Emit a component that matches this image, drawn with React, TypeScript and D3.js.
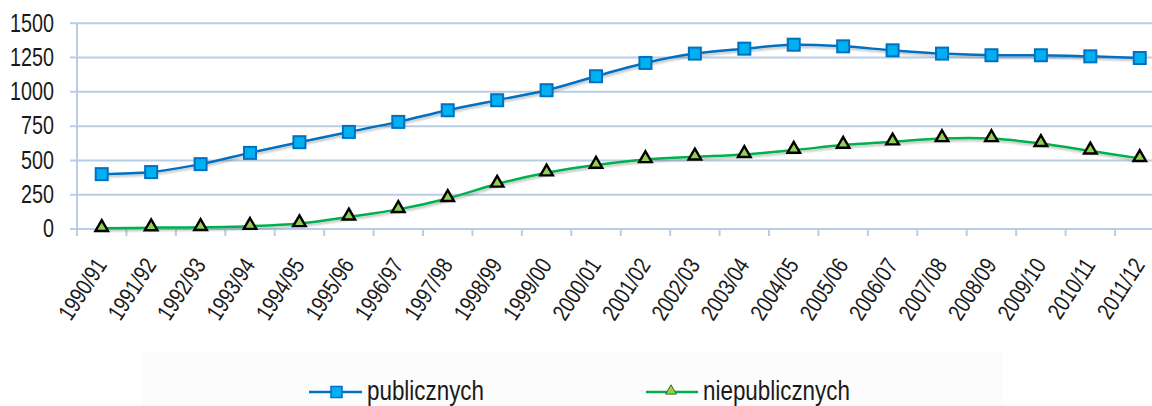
import React from "react";
import * as d3 from "d3";

const categories = [
  "1990/91", "1991/92", "1992/93", "1993/94", "1994/95", "1995/96", "1996/97", "1997/98",
  "1998/99", "1999/00", "2000/01", "2001/02", "2002/03", "2003/04", "2004/05", "2005/06",
  "2006/07", "2007/08", "2008/09", "2009/10", "2010/11", "2011/12",
];
const publiczne = [400, 415, 473, 555, 633, 708, 781, 866, 939, 1012, 1114, 1211, 1279, 1315, 1344, 1332, 1303, 1279, 1267, 1267, 1259, 1247];
const niepubliczne = [5, 10, 12, 20, 40, 88, 143, 223, 328, 410, 466, 507, 526, 544, 575, 612, 636, 660, 660, 624, 570, 515];
const yTicks = [0, 250, 500, 750, 1000, 1250, 1500];
const seriesNames = ["publicznych", "niepublicznych"];

const W = 1152;
const H = 406;
const FONT = "'Liberation Sans', Arial, sans-serif";
const GRID = "#B9CDE5";
const SX = 0.8;

export default function App() {
  const x = d3.scaleBand<string>().domain(categories).range([77, 77 + 22 * 49.43]).padding(0);
  const y = d3.scaleLinear().domain([0, 1500]).range([229, 23.3]);
  const cx = (c: string) => (x(c) as number) + x.bandwidth() / 2;

  const line = d3
    .line<number>()
    .x((_, i) => cx(categories[i]))
    .y((d) => y(d))
    .curve(d3.curveCatmullRom.alpha(0.5));

  const tri = d3.symbol().type(d3.symbolTriangle).size(68)();

  return (
    <svg width={W} height={H} style={{ position: "absolute", left: 0, top: 0, background: "#fff" }} fontFamily={FONT}>
      <defs>
        <filter id="sh" x="-5%" y="-20%" width="110%" height="140%">
          <feGaussianBlur in="SourceAlpha" stdDeviation="0.8" />
          <feOffset dx="1" dy="2" result="b" />
          <feComponentTransfer>
            <feFuncA type="linear" slope="0.25" />
          </feComponentTransfer>
          <feMerge>
            <feMergeNode />
            <feMergeNode in="SourceGraphic" />
          </feMerge>
        </filter>
      </defs>
      {yTicks.map((t) => (
        <line key={t} x1={70} x2={W} y1={y(t)} y2={y(t)} stroke={GRID} strokeWidth={2} />
      ))}
      <line x1={77} x2={77} y1={y(1500) - 1} y2={236} stroke={GRID} strokeWidth={2} />
      {categories.map((c, i) =>
        i === 0 ? null : (
          <line key={c} x1={x(c) as number} x2={x(c) as number} y1={229} y2={236} stroke={GRID} strokeWidth={2} />
        )
      )}
      {yTicks.map((t) => (
        <text
          key={t}
          transform={`translate(54,${y(t)}) scale(0.79,1)`}
          textAnchor="end"
          dominantBaseline="central"
          fontSize={25}
          fill="#1a1a1a"
        >
          {t}
        </text>
      ))}
      {categories.map((c) => (
        <text
          key={c}
          transform={`translate(${cx(c) + 6},${265}) rotate(-57) scale(${SX},1)`}
          textAnchor="end"
          fontSize={23.5}
          fill="#1a1a1a"
        >
          {c}
        </text>
      ))}
      <g filter="url(#sh)">
        <path d={line(publiczne) || ""} fill="none" stroke="#0070C0" strokeWidth={2.5} />
        <path d={line(niepubliczne) || ""} fill="none" stroke="#00B050" strokeWidth={2.5} />
      </g>
      {publiczne.map((v, i) => (
        <rect
          key={i}
          x={cx(categories[i]) - 6}
          y={y(v) - 6}
          width={12}
          height={12}
          fill="#00B0F0"
          stroke="#0070C0"
          strokeWidth={2}
        />
      ))}
      {niepubliczne.map((v, i) => (
        <path
          key={i}
          d={tri || ""}
          transform={`translate(${cx(categories[i])},${y(v) - 1})`}
          fill="#92D050"
          stroke="#000"
          strokeWidth={2.4}
          strokeLinejoin="miter"
        />
      ))}
      <rect x={142} y={352} width={861} height={54} fill="#FCFCFC" />
      <line x1={309} x2={362} y1={392} y2={392} stroke="#0070C0" strokeWidth={2.5} />
      <rect x={331} y={386.5} width={11} height={11} fill="#00B0F0" stroke="#0070C0" strokeWidth={1.5} />
      <text transform={`translate(367,400) scale(0.8,1)`} fontSize={28} fill="#1a1a1a">
        {seriesNames[0]}
      </text>
      <line x1={646} x2={698} y1={392} y2={392} stroke="#00B050" strokeWidth={2.5} />
      <path
        d={d3.symbol().type(d3.symbolTriangle).size(50)() || ""}
        transform="translate(671,391)"
        fill="#92D050"
        stroke="#3a6a20"
        strokeWidth={1}
      />
      <text transform={`translate(703,400) scale(0.8,1)`} fontSize={28} fill="#1a1a1a">
        {seriesNames[1]}
      </text>
    </svg>
  );
}
